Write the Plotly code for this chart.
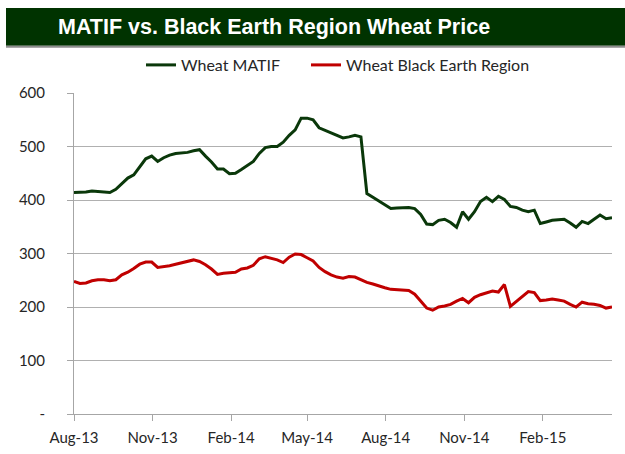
import pandas as pd
import plotly.graph_objects as go

# Weekly observation dates (x categories)
dates = pd.date_range("2013-08-01", periods=91, freq="7D")

wheat_matif = [
    414, 414, 415, 417, 416, 414, 414, 420, 431, 441, 447, 462, 477, 482, 472, 479, 484, 487, 488, 489, 492, 494, 482,
    471, 458, 458, 449, 450, 457, 464, 472, 487, 498, 500, 500, 508, 521, 531, 553, 553, 550, 535, 530, 525, 520, 516,
    518, 521, 518, 412, 405, 398, 392, 384, 385, 386, 386, 384, 373, 355, 354, 362, 364, 358, 349, 378, 364, 378, 397,
    405, 397, 407, 401, 388, 386, 381, 378, 381, 356, 359, 362, 363, 364, 357, 349, 360, 356, 364, 372, 365, 367,
]

wheat_black_earth = [
    248, 244, 245, 249, 251, 251, 249, 251, 260, 265, 272, 280, 284, 284, 274, 275, 277, 280, 283, 285, 288, 285, 279,
    271, 261, 263, 264, 265, 271, 273, 278, 290, 294, 291, 288, 283, 293, 299, 298, 292, 286, 274, 266, 260, 256, 254,
    257, 256, 251, 246, 243, 239, 236, 233, 232, 231, 231, 224, 212, 198, 194, 200, 202, 205, 211, 216, 208, 218, 223,
    226, 230, 228, 242, 201, 210, 220, 229, 227, 212, 213, 215, 213, 211, 205, 200, 209, 206, 205, 203, 198, 200,
]

series_names = ["Wheat MATIF", "Wheat Black Earth Region"]
series_colors = ["#0A380A", "#C00000"]
series_legends = ["legend", "legend2"]

x_tick_vals = ["2013-08-01", "2013-11-01", "2014-02-01", "2014-05-01",
               "2014-08-01", "2014-11-01", "2015-02-01"]
x_tick_text = ["Aug-13", "Nov-13", "Feb-14", "May-14", "Aug-14", "Nov-14", "Feb-15"]
y_tick_vals = [0, 100, 200, 300, 400, 500, 600]
y_tick_text = ["-", "100", "200", "300", "400", "500", "600"]

title_text = "MATIF vs. Black Earth Region Wheat Price"

fig = go.Figure()
for name, vals, col, lg in zip(series_names, [wheat_matif, wheat_black_earth],
                               series_colors, series_legends):
    fig.add_trace(go.Scatter(x=dates, y=vals, mode="lines", name=name, legend=lg,
                             line=dict(color=col, width=3)))

font_main = "Lato, 'Open Sans', sans-serif"
PL, PR, PT, PB = 74, 612, 93, 414  # plot-area pixel edges
PW, PH = PR - PL, PB - PT


def px_x(p):
    return (p - PL) / PW


def px_y(p):
    return (PB - p) / PH


legend_common = dict(orientation="h", yanchor="middle", y=px_y(65),
                     font=dict(family=font_main, size=16, color="#262626"),
                     bgcolor="rgba(0,0,0,0)", xanchor="left")

fig.update_layout(
    width=625, height=454,
    margin=dict(l=PL, r=625 - PR, t=PT, b=454 - PB, autoexpand=False),
    paper_bgcolor="white", plot_bgcolor="white",
    showlegend=True,
    legend=dict(x=px_x(141), **legend_common),
    legend2=dict(x=px_x(306), **legend_common),
    xaxis=dict(type="date", range=["2013-08-01", "2015-04-23"],
               tickvals=x_tick_vals, ticktext=x_tick_text,
               showgrid=False, showline=True, linecolor="#A6A6A6", linewidth=1,
               ticks="outside", ticklen=6, tickcolor="#A6A6A6",
               ticklabelstandoff=4,
               tickfont=dict(family=font_main, size=15, color="#262626"),
               zeroline=False),
    yaxis=dict(range=[0, 600], tickvals=y_tick_vals, ticktext=y_tick_text,
               showgrid=True, gridcolor="#B0B0B0", gridwidth=1,
               showline=True, linecolor="#A6A6A6", linewidth=1,
               ticks="outside", ticklen=6, tickcolor="#A6A6A6",
               ticklabelstandoff=19,
               tickfont=dict(family=font_main, size=15, color="#262626"),
               zeroline=False),
    shapes=[
        dict(type="rect", xref="paper", yref="paper",
             x0=px_x(6), x1=px_x(625), y0=px_y(45.7), y1=px_y(8),
             fillcolor="#003300", line=dict(width=0), layer="below"),
        dict(type="rect", xref="paper", yref="paper",
             x0=px_x(6), x1=px_x(625), y0=px_y(47.7), y1=px_y(45.7),
             fillcolor="#8C8C8C", line=dict(width=0), layer="below"),
    ],
    annotations=[
        dict(text=f"<b>{title_text}</b>", xref="paper", yref="paper",
             x=px_x(56), xanchor="left",
             y=px_y(27), yanchor="middle", showarrow=False,
             font=dict(family="'Liberation Sans', Arial, sans-serif", size=21.5, color="white")),
    ],
)

fig.write_html("out.html",
               config={"displayModeBar": False},
               post_script="document.body.style.margin='0';document.body.style.overflow='hidden';")
